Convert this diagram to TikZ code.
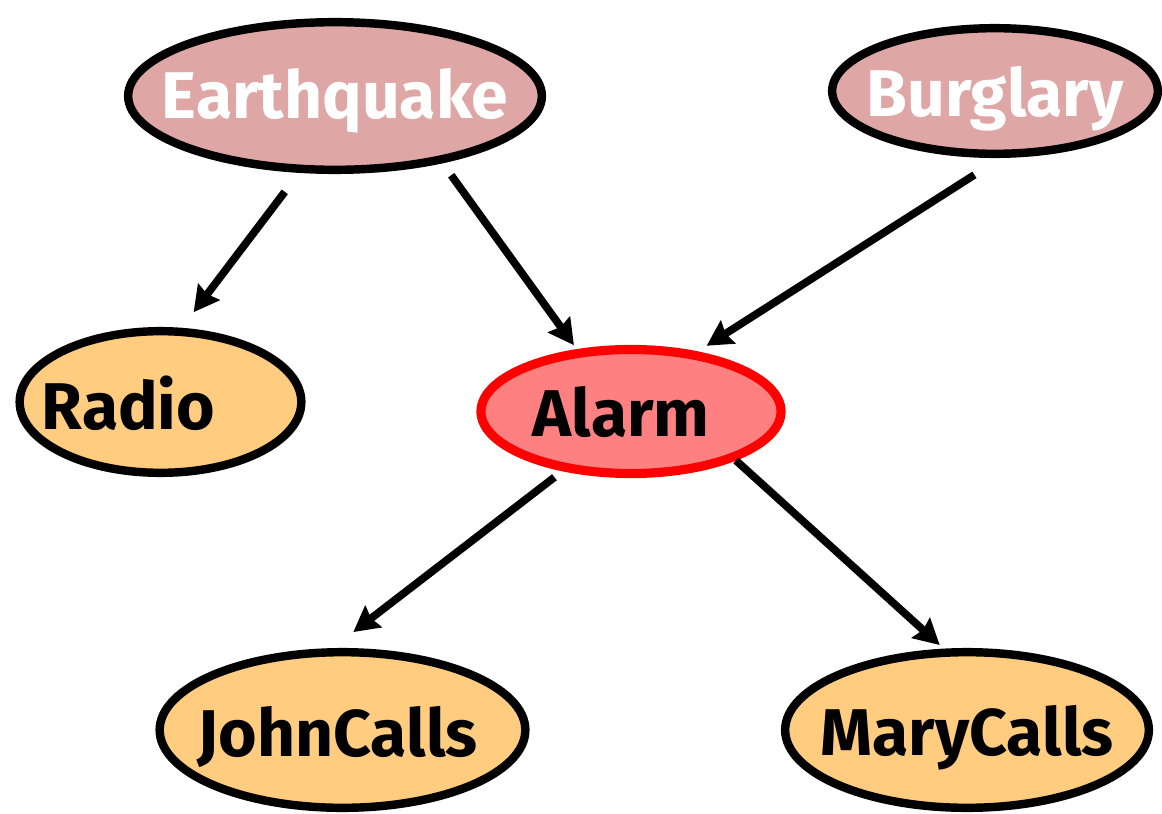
\documentclass[tikz,border=0pt]{standalone}
\usepackage{fontspec}
\setmainfont{Fira Sans}
\usetikzlibrary{shapes.geometric,arrows.meta}

\definecolor{causefill}{RGB}{223,166,166}
\definecolor{leaffill}{RGB}{255,204,128}
\definecolor{alarmfill}{RGB}{255,128,128}
\definecolor{alarmline}{RGB}{255,0,0}

\begin{document}
\begin{tikzpicture}[
    x=0.025cm, y=-0.025cm,
    var/.style={ellipse, draw, line width=6pt, inner sep=0pt},
    cause/.style={var, fill=causefill},
    leaf/.style={var, fill=leaffill},
    varlabel/.style={inner sep=0pt, text height=35.6pt, text depth=0pt, font=\fontsize{47}{50}\selectfont\bfseries},
    link/.style={line width=5.5pt, -{Stealth[length=18pt,width=19pt,inset=2pt]}}
]
\useasboundingbox (0,0) rectangle (1162,814);

% Top level
\node[cause, minimum width=10.34cm, minimum height=3.69cm,
      label={[varlabel, text=white, yshift=2pt]center:Earthquake}] (earthquake) at (335,96) {};
\node[cause, minimum width=8.14cm, minimum height=3.14cm,
      label={[varlabel, text=white]center:Burglary}] (burglary) at (995,91) {};

% Middle level
\node[leaf, minimum width=7.04cm, minimum height=3.54cm,
      label={[varlabel, xshift=-22.8pt, yshift=-2pt]center:Radio}] (radio) at (160.5,402) {};
\node[var, draw=alarmline, line width=6.5pt, fill=alarmfill, minimum width=7.5cm, minimum height=3.1cm,
      label={[varlabel, xshift=-7pt]center:Alarm}] (alarm) at (631,411.5) {};

% Bottom level
\node[leaf, minimum width=9.14cm, minimum height=3.89cm,
      label={[varlabel, xshift=-3.5pt, yshift=-1pt]center:JohnCalls}] (johncalls) at (342.5,730) {};
\node[leaf, minimum width=9.09cm, minimum height=3.89cm,
      label={[varlabel]center:MaryCalls}] (marycalls) at (967,730) {};

% Arrows
\draw[link, shorten <=16.9pt, shorten >=13.9pt] (earthquake.245.5) -- (radio.74.1);
\draw[link, shorten <=10.6pt, shorten >=3.5pt] (earthquake.328.1) -- (alarm.131.5);
\draw[link, shorten <=22.3pt, shorten >=7.5pt] (burglary.275.7) -- (alarm.42.7);
\draw[link, shorten <=7.1pt, shorten >=18.7pt] (alarm.221.6) -- (johncalls.97.8);
\draw[link, shorten >=3.8pt] (alarm.335.7) -- (marycalls.106.4);
\end{tikzpicture}
\end{document}
